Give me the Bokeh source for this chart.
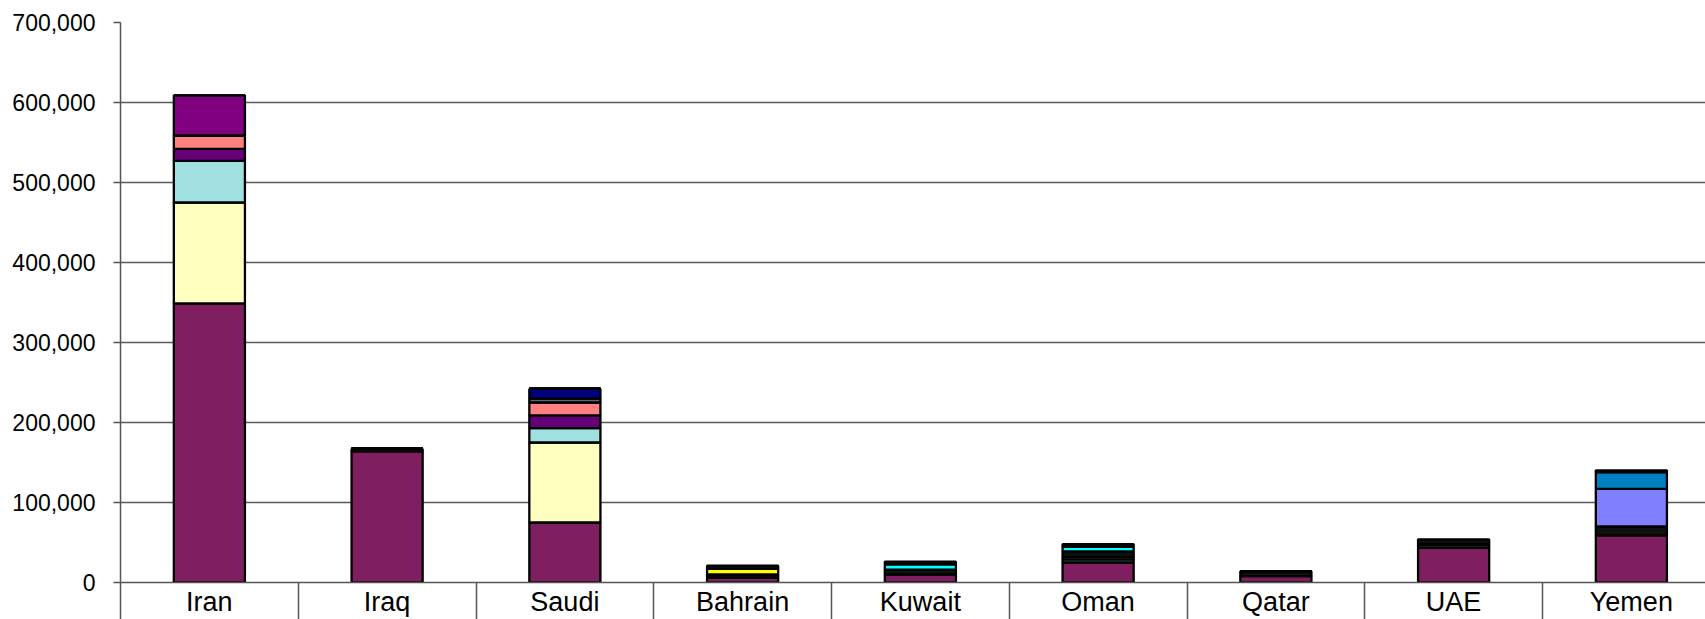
from bokeh.plotting import figure
from bokeh.models import ColumnDataSource, Range1d, FixedTicker, NumeralTickFormatter
from bokeh.embed import file_html
from bokeh.resources import INLINE

countries = ["Iran", "Iraq", "Saudi", "Bahrain", "Kuwait", "Oman", "Qatar", "UAE", "Yemen"]

# stacked series, bottom to top
s01 = [349000, 164000, 75000, 6000, 10000, 25000, 8000, 44000, 59000]
s02 = [0, 3000, 0, 4000, 6000, 0, 6000, 0, 11000]
s03 = [126000, 0, 100000, 0, 0, 0, 0, 0, 0]
s04 = [52000, 0, 18000, 0, 0, 0, 0, 0, 0]
s05 = [15000, 0, 16000, 0, 0, 0, 0, 0, 0]
s06 = [17000, 0, 16000, 0, 0, 0, 0, 0, 0]
s07 = [0, 0, 5000, 0, 0, 0, 0, 0, 0]
s08 = [0, 0, 12000, 0, 0, 0, 0, 0, 0]
s09 = [0, 0, 0, 0, 0, 4000, 0, 4000, 0]
s10 = [0, 0, 0, 0, 0, 3000, 0, 0, 0]
s11 = [0, 0, 0, 0, 0, 7000, 0, 0, 0]
s12 = [0, 0, 0, 7000, 0, 0, 0, 0, 0]
s13 = [0, 0, 0, 0, 7000, 6000, 0, 0, 0]
s14 = [0, 0, 0, 0, 0, 0, 0, 0, 47000]
s15 = [0, 0, 0, 0, 0, 0, 0, 0, 21000]
s16 = [50000, 0, 0, 0, 0, 0, 0, 0, 0]
s17 = [0, 0, 0, 4000, 3000, 3000, 0, 6000, 2000]

series_names = ["s01", "s02", "s03", "s04", "s05", "s06", "s07", "s08", "s09",
                "s10", "s11", "s12", "s13", "s14", "s15", "s16", "s17"]
series_values = [s01, s02, s03, s04, s05, s06, s07, s08, s09,
                 s10, s11, s12, s13, s14, s15, s16, s17]
series_colors = ["#7F1F5F", "#101010", "#FFFFC0", "#A0E0E0", "#660077", "#FF8080",
                 "#606070", "#000080", "#4F7F7F", "#7F3F3F", "#101010", "#FFFF00",
                 "#00FFFF", "#8080FF", "#0080C0", "#800080", "#101010"]

y_ticks = [0, 100000, 200000, 300000, 400000, 500000, 600000, 700000]

xs = list(range(len(countries)))
data = {"x": xs}
for n, v in zip(series_names, series_values):
    data[n] = v
source = ColumnDataSource(data)

W, H = 1705, 619
left, top, bottom = 120, 22, 37
cat_w = 177.75
frame_w = W - left
p = figure(width=W, height=H, output_backend="svg", toolbar_location=None,
           x_range=Range1d(-0.5, -0.5 + frame_w / cat_w), y_range=Range1d(0, 700000),
           min_border_left=left, min_border_right=0, min_border_top=top,
           min_border_bottom=bottom)
p.outline_line_color = None
p.background_fill_color = "white"
p.border_fill_color = "white"

p.vbar_stack(series_names, x="x", width=0.4, source=source,
             fill_color=series_colors, line_color="black", line_width=2.3)

# y axis
p.yaxis.ticker = FixedTicker(ticks=y_ticks)
p.yaxis.formatter = NumeralTickFormatter(format="0,0")
p.yaxis.major_label_text_font = "Liberation Sans"
p.yaxis.major_label_text_font_size = "23px"
p.yaxis.major_label_text_color = "#000000"
p.yaxis.major_tick_out = 7
p.yaxis.major_tick_in = 0
p.yaxis.minor_tick_out = 0
p.yaxis.minor_tick_in = 0
p.yaxis.major_label_standoff = 18
p.yaxis.axis_line_color = "#555555"
p.yaxis.axis_line_width = 1.5
p.yaxis.major_tick_line_color = "#555555"
p.yaxis.major_tick_line_width = 1.5

# x axis
p.xaxis.ticker = FixedTicker(ticks=xs, minor_ticks=[i - 0.5 for i in range(len(countries) + 1)])
p.xaxis.major_label_overrides = {i: c for i, c in enumerate(countries)}
p.xaxis.major_label_text_font = "Liberation Sans"
p.xaxis.major_label_text_font_size = "27px"
p.xaxis.major_label_text_color = "#000000"
p.xaxis.major_tick_out = 0
p.xaxis.major_tick_in = 0
p.xaxis.minor_tick_out = 40
p.xaxis.minor_tick_in = 0
p.xaxis.minor_tick_line_color = "#555555"
p.xaxis.minor_tick_line_width = 1.5
p.xaxis.major_label_standoff = -36
p.xaxis.axis_line_color = "#555555"
p.xaxis.axis_line_width = 1.5

p.xgrid.visible = False
p.ygrid.ticker = FixedTicker(ticks=y_ticks)
p.ygrid.grid_line_color = "#5a5a5a"
p.ygrid.grid_line_width = 1.5

open("out.html", "w").write(file_html(p, INLINE))
